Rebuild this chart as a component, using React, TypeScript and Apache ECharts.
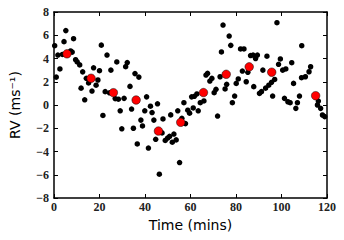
import React, { useEffect, useRef } from "react";
import * as echarts from "echarts";

const timeRaw = [
  0.3, 1.0, 1.7, 2.6, 3.7, 4.4, 5.2, 7.3, 8.0, 8.6, 9.5, 10.2, 11.3, 11.9, 12.6, 13.5, 14.2, 15.2, 16.7, 17.4,
  18.5, 19.3, 20.0, 20.8, 21.5, 22.5, 23.3, 24.4, 25.0, 26.9, 27.6, 28.3, 29.1, 29.8, 30.8, 31.5, 32.2, 33.4,
  34.1, 34.9, 35.6, 36.6, 37.3, 38.2, 38.9, 39.9, 40.7, 41.5, 42.4, 43.1, 43.9, 44.7, 45.5, 46.3, 47.5, 47.9,
  48.9, 49.9, 50.8, 51.3, 52.0, 52.7, 53.7, 54.4, 55.2, 56.2, 57.1, 57.8, 58.8, 59.6, 60.5, 61.2, 61.7, 62.8,
  63.4, 64.3, 65.9, 66.8, 67.5, 68.5, 69.4, 70.4, 71.2, 71.9, 73.0, 73.6, 74.3, 75.2, 75.9, 77.0, 77.7, 78.4,
  79.4, 80.1, 81.0, 82.0, 83.5, 82.8, 84.5, 85.2, 86.4, 87.5, 88.6, 89.4, 87.8, 90.3, 91.2, 91.8, 93.0, 93.6,
  94.4, 95.6, 96.1, 97.0, 98.0, 98.7, 99.5, 100.5, 101.9, 101.3, 102.8, 103.8, 104.5, 105.3, 106.3, 107.0,
  107.9, 108.8, 110.5, 108.9, 112.1, 112.8, 115.8, 116.2, 117.2, 118.0, 119.0,
];
const rvRaw = [
  5.1, 2.4, 4.3, 3.1, 4.35, 5.45, 6.4, 4.65, 4.55, 5.7, 3.9, 3.7, 3.45, 1.45, 2.85, 0.45, 2.3, 1.9, 1.2, 3.2,
  1.7, 2.15, 2.95, 5.15, -0.9, 1.15, 4.3, 1.05, 3.0, 0.55, 3.7, 0.5, -0.5, -2.05, 0.57, 3.3, 3.65, 1.6,
  -0.35, -2.0, 2.7, -3.35, 2.4, -1.3, -1.8, -0.5, 0.7, -3.7, -0.1, -0.65, -1.3, -2.95, 0.1, -5.95, -2.4, -1.2,
  -3.05, -2.85, -2.7, -0.85, -3.2, -2.5, -3.0, -0.5, -4.95, -1.15, 0.2, -1.6, -0.45, -0.7, 0.7, -0.25, 0.75, 0.95,
  -0.5, 0.2, 0.35, 2.58, 2.72, 2.06, 2.29, 1.06, 1.35, -0.95, 2.43, 4.56, 6.88, 1.38, 1.78, 5.93, 5.13, 0.2,
  0.77, 1.86, 2.24, 4.82, 4.82, 2.92, 2.0, 2.81, 4.25, 4.3, 4.0, 4.3, 1.58, 1.0, 1.15, 3.0, 1.45, 4.2,
  1.7, 1.95, 0.77, 2.2, 7.08, 3.5, 3.96, 3.0, 3.1, 0.57, 0.28, 0.2, 3.64, 1.86, -0.29, 0.2,
  0.77, 2.35, 2.43, 5.1, 2.86, 3.29, 0.0, 0.34, -0.29, -0.86, -1.0,
];

const timeBinned = [5.7, 16.3, 26.1, 36.1, 45.9, 55.7, 65.7, 75.7, 85.8, 95.7, 115.0];
const rvBinned = [4.4, 2.3, 1.06, 0.43, -2.24, -1.49, 1.07, 2.64, 3.28, 2.82, 0.8];

const xTicks = [0, 20, 40, 60, 80, 100, 120];
const yTicks = [-8, -6, -4, -2, 0, 2, 4, 6, 8];

const serif = "Liberation Serif";
const sans = "DejaVu Sans";

export default function App() {
  const ref = useRef<HTMLDivElement>(null);
  useEffect(() => {
    if (!ref.current) return;
    const chart = echarts.init(ref.current, null, { renderer: "svg" });
    const fmt = (v: number) => (v < 0 ? "\u2212" + Math.abs(v) : String(v));
    const lineStyle = { color: "#000", width: 1.5 };
    const tick = { show: true, inside: true, length: 4, lineStyle: { color: "#000", width: 1 } };
    const xBase = {
      type: "value" as const,
      min: xTicks[0],
      max: xTicks[xTicks.length - 1],
      interval: 20,
      splitLine: { show: false },
      axisLine: { show: true, onZero: false, lineStyle },
      axisTick: tick,
    };
    const yBase = {
      type: "value" as const,
      min: yTicks[0],
      max: yTicks[yTicks.length - 1],
      interval: 2,
      splitLine: { show: false },
      axisLine: { show: true, onZero: false, lineStyle },
      axisTick: tick,
    };
    chart.setOption({
      animation: false,
      backgroundColor: "#fff",
      grid: { left: 51, right: 17, top: 12, bottom: 42 },
      xAxis: [
        {
          ...xBase,
          position: "bottom",
          name: "Time (mins)",
          nameLocation: "middle",
          nameGap: 17,
          nameTextStyle: { fontFamily: sans, fontSize: 14, color: "#000" },
          axisLabel: { fontFamily: serif, fontSize: 12, fontWeight: "bold", color: "#222", margin: 3, formatter: fmt },
        },
        { ...xBase, position: "top", axisLabel: { show: false } },
      ],
      yAxis: [
        {
          ...yBase,
          position: "left",
          name: "RV (ms\u207B\u00B9)",
          nameLocation: "middle",
          nameGap: 32,
          nameTextStyle: { fontFamily: sans, fontSize: 14, color: "#000" },
          axisLabel: { fontFamily: serif, fontSize: 12, fontWeight: "bold", color: "#222", margin: 5, formatter: fmt },
        },
        { ...yBase, position: "right", axisLabel: { show: false } },
      ],
      series: [
        {
          type: "scatter",
          data: timeRaw.map((t, i) => [t, rvRaw[i]]),
          symbolSize: 5.5,
          itemStyle: { color: "#000", opacity: 1 },
          z: 2,
        },
        {
          type: "scatter",
          data: timeBinned.map((t, i) => [t, rvBinned[i]]),
          symbolSize: 8.5,
          itemStyle: { color: "#ff0000", borderColor: "#000", borderWidth: 0.5, opacity: 1 },
          z: 3,
        },
      ],
    });
    return () => chart.dispose();
  }, []);
  return <div ref={ref} style={{ width: 344, height: 240, position: "absolute", left: 0, top: 0 }} />;
}
